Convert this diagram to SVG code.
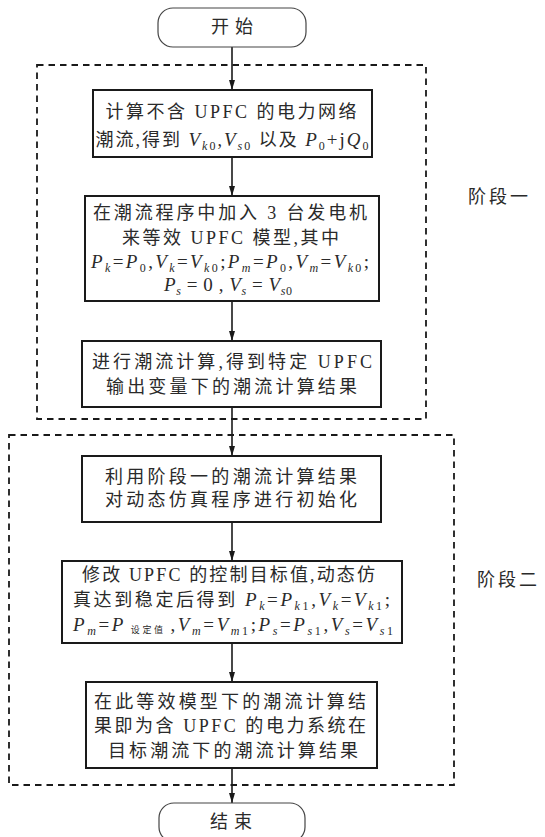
<svg xmlns="http://www.w3.org/2000/svg" width="545" height="837" viewBox="0 0 545 837">
<defs>
<marker id="arrd" viewBox="0 0 10 6" refX="10" refY="3" markerWidth="10" markerHeight="6" markerUnits="userSpaceOnUse" orient="auto">
<path d="M0,0 L10,3 L0,6 Z" fill="#1a1a1a"/>
</marker>
</defs>
<style>
.t{font-family:"Liberation Serif","Noto Sans CJK SC",serif;font-size:18px;fill:#2a2a2a;text-anchor:middle}
.m{font-size:19px}
.i{font-style:italic}
.s{font-size:12px}
.ss{font-size:9px}
.box{fill:#fff;stroke:#1a1a1a;stroke-width:2}
.term{fill:#fff;stroke:#444;stroke-width:1.2}
.dash{fill:none;stroke:#1a1a1a;stroke-width:1.8;stroke-dasharray:6.5 5}
.con{fill:none;stroke:#1a1a1a;stroke-width:1.6;marker-end:url(#arrd)}
</style>
<rect width="545" height="837" fill="#fff"/>

<g id="stages">
<rect class="dash" x="37" y="65" width="389" height="354"/>
<rect class="dash" x="9" y="435" width="445" height="350"/>
<text class="t" x="498" y="203" textLength="60" lengthAdjust="spacing">阶段一</text>
<text class="t" x="507" y="586" textLength="60" lengthAdjust="spacing">阶段二</text>
</g>

<g id="connectors">
<line class="con" x1="232" y1="47" x2="232" y2="90"/>
<line class="con" x1="232" y1="157" x2="232" y2="196"/>
<line class="con" x1="232" y1="301" x2="232" y2="341"/>
<line class="con" x1="232" y1="407" x2="232" y2="456"/>
<line class="con" x1="232" y1="522" x2="232" y2="561"/>
<line class="con" x1="232" y1="643" x2="232" y2="682"/>
<line class="con" x1="232" y1="768" x2="232" y2="803"/>
</g>

<g id="start">
<rect class="term" x="158" y="8" width="148" height="39" rx="15"/>
<text class="t" x="232" y="33" textLength="42" lengthAdjust="spacing">开始</text>
</g>

<g id="box1">
<rect class="box" x="93" y="90" width="279" height="67"/>
<text class="t" x="231" y="118" textLength="251" lengthAdjust="spacing">计算不含 UPFC 的电力网络</text>
<text class="t" x="232" y="146" textLength="273" lengthAdjust="spacing">潮流,得到 <tspan class="i m">V</tspan><tspan class="s i" dy="4">k</tspan><tspan class="s" dy="0">0</tspan><tspan dy="-4">,</tspan><tspan class="i m">V</tspan><tspan class="s i" dy="4">s</tspan><tspan class="s">0</tspan><tspan dy="-4"> 以及 </tspan><tspan class="i m">P</tspan><tspan class="s" dy="4">0</tspan><tspan class="m" dy="-4">+j</tspan><tspan class="i m">Q</tspan><tspan class="s" dy="4">0</tspan></text>
</g>

<g id="box2">
<rect class="box" x="85" y="196" width="294" height="105"/>
<text class="t" x="230" y="219" textLength="274" lengthAdjust="spacing">在潮流程序中加入 3 台发电机</text>
<text class="t" x="230.5" y="244" textLength="217" lengthAdjust="spacing">来等效 UPFC 模型,其中</text>
<text class="t m" x="230" y="268" textLength="278" lengthAdjust="spacing"><tspan class="i">P</tspan><tspan class="s i" dy="4">k</tspan><tspan dy="-4">=</tspan><tspan class="i">P</tspan><tspan class="s" dy="4">0</tspan><tspan dy="-4">,</tspan><tspan class="i">V</tspan><tspan class="s i" dy="4">k</tspan><tspan dy="-4">=</tspan><tspan class="i">V</tspan><tspan class="s i" dy="4">k</tspan><tspan class="s">0</tspan><tspan dy="-4">;</tspan><tspan class="i">P</tspan><tspan class="s i" dy="4">m</tspan><tspan dy="-4">=</tspan><tspan class="i">P</tspan><tspan class="s" dy="4">0</tspan><tspan dy="-4">,</tspan><tspan class="i">V</tspan><tspan class="s i" dy="4">m</tspan><tspan dy="-4">=</tspan><tspan class="i">V</tspan><tspan class="s i" dy="4">k</tspan><tspan class="s">0</tspan><tspan dy="-4">;</tspan></text>
<text class="t m" x="228" y="291" textLength="128" lengthAdjust="spacing"><tspan class="i">P</tspan><tspan class="s i" dy="4">s</tspan><tspan dy="-4"> = 0 , </tspan><tspan class="i">V</tspan><tspan class="s i" dy="4">s</tspan><tspan dy="-4"> = </tspan><tspan class="i">V</tspan><tspan class="s i" dy="4">s</tspan><tspan class="s">0</tspan></text>
</g>

<g id="box3">
<rect class="box" x="82" y="341" width="299" height="66"/>
<text class="t" x="232" y="368" textLength="280" lengthAdjust="spacing">进行潮流计算,得到特定 UPFC</text>
<text class="t" x="231.5" y="393" textLength="251" lengthAdjust="spacing">输出变量下的潮流计算结果</text>
</g>

<g id="box4">
<rect class="box" x="82" y="456" width="299" height="66"/>
<text class="t" x="231" y="483" textLength="252" lengthAdjust="spacing">利用阶段一的潮流计算结果</text>
<text class="t" x="231" y="506" textLength="252" lengthAdjust="spacing">对动态仿真程序进行初始化</text>
</g>

<g id="box5">
<rect class="box" x="62" y="561" width="340" height="82"/>
<text class="t" x="228.5" y="581" textLength="293" lengthAdjust="spacing">修改 UPFC 的控制目标值,动态仿</text>
<text class="t" x="231.5" y="606" textLength="317" lengthAdjust="spacing">真达到稳定后得到 <tspan class="i m">P</tspan><tspan class="s i" dy="4">k</tspan><tspan class="m" dy="-4">=</tspan><tspan class="i m">P</tspan><tspan class="s i" dy="4">k</tspan><tspan class="s">1</tspan><tspan class="m" dy="-4">,</tspan><tspan class="i m">V</tspan><tspan class="s i" dy="4">k</tspan><tspan class="m" dy="-4">=</tspan><tspan class="i m">V</tspan><tspan class="s i" dy="4">k</tspan><tspan class="s">1</tspan><tspan class="m" dy="-4">;</tspan></text>
<text class="t m" x="233" y="631" textLength="320" lengthAdjust="spacing"><tspan class="i">P</tspan><tspan class="s i" dy="4">m</tspan><tspan dy="-4">=</tspan><tspan class="i">P</tspan><tspan class="ss" dy="2"> 设定值 </tspan><tspan dy="-2">,</tspan><tspan class="i">V</tspan><tspan class="s i" dy="4">m</tspan><tspan dy="-4">=</tspan><tspan class="i">V</tspan><tspan class="s i" dy="4">m</tspan><tspan class="s">1</tspan><tspan dy="-4">;</tspan><tspan class="i">P</tspan><tspan class="s i" dy="4">s</tspan><tspan dy="-4">=</tspan><tspan class="i">P</tspan><tspan class="s i" dy="4">s</tspan><tspan class="s">1</tspan><tspan dy="-4">,</tspan><tspan class="i">V</tspan><tspan class="s i" dy="4">s</tspan><tspan dy="-4">=</tspan><tspan class="i">V</tspan><tspan class="s i" dy="4">s</tspan><tspan class="s">1</tspan></text>
</g>

<g id="box6">
<rect class="box" x="86" y="682" width="291" height="86"/>
<text class="t" x="230" y="708" textLength="272" lengthAdjust="spacing">在此等效模型下的潮流计算结</text>
<text class="t" x="230" y="732" textLength="272" lengthAdjust="spacing">果即为含 UPFC 的电力系统在</text>
<text class="t" x="233" y="757" textLength="250" lengthAdjust="spacing">目标潮流下的潮流计算结果</text>
</g>

<g id="end">
<rect class="term" x="159" y="803" width="146" height="39" rx="15"/>
<text class="t" x="231" y="828" textLength="42" lengthAdjust="spacing">结束</text>
</g>
</svg>
